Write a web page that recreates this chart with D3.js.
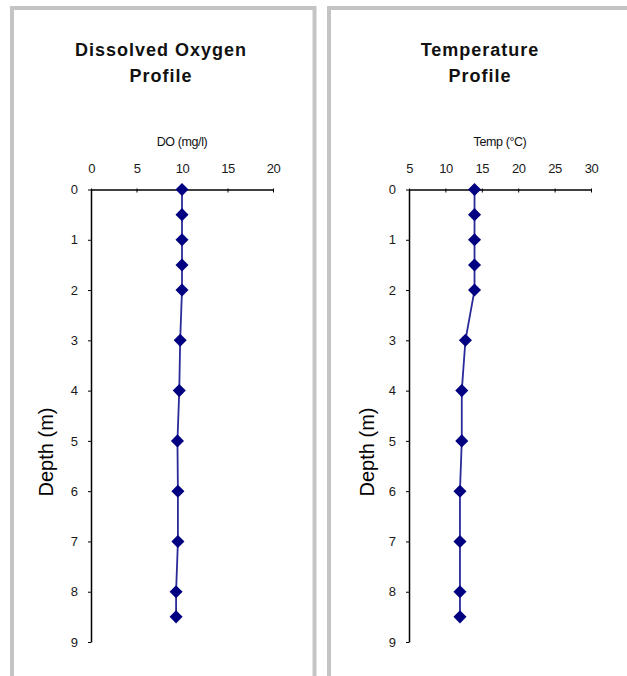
<!DOCTYPE html>
<html>
<head>
<meta charset="utf-8">
<script src="https://cdn.jsdelivr.net/npm/d3@7"></script>
<style>
  body { margin: 0; background: #fff; }
  text { font-family: "Liberation Sans", Arial, sans-serif; }
</style>
</head>
<body>
<div id="chart"></div>
<script>
// depth of each reading (m)
var depths = [0, 0.5, 1, 1.5, 2, 3, 4, 5, 6, 7, 8, 8.5];
// dissolved oxygen (mg/l)
var doValues = [10.0, 10.0, 10.0, 10.0, 10.0, 9.8, 9.7, 9.5, 9.55, 9.55, 9.35, 9.35];
// temperature (C)
var tempValues = [14.0, 14.0, 14.0, 14.0, 14.0, 12.75, 12.25, 12.25, 12.0, 12.0, 12.0, 12.0];

var doTicks = [0, 5, 10, 15, 20];
var tempTicks = [5, 10, 15, 20, 25, 30];
var depthTicks = [0, 1, 2, 3, 4, 5, 6, 7, 8, 9];

var W = 627, H = 676;

var svg = d3.select("#chart").append("svg")
    .attr("width", W)
    .attr("height", H);

// one panel per chart
var panels = [
  {px: 12, pw: 302.5, title: ["Dissolved Oxygen", "Profile"], tcx: 161,
   xlabel: "DO (mg/l)", domain: [0, 20], ticks: doTicks, values: doValues,
   x0: 91, x1: 273, ylab: 46},
  {px: 329, pw: 320, title: ["Temperature", "Profile"], tcx: 480,
   xlabel: "Temp (°C)", domain: [5, 30], ticks: tempTicks, values: tempValues,
   x0: 409, x1: 591, ylab: 367}
];

var y = d3.scaleLinear().domain([0, 9]).range([189.5, 642]);

panels.forEach(function(p){
  // gray frame
  svg.append("rect")
    .attr("x", p.px).attr("y", 8)
    .attr("width", p.pw).attr("height", H + 20)
    .attr("fill", "none")
    .attr("stroke", "#c4c4c4")
    .attr("stroke-width", 4);

  var title = svg.append("text")
    .attr("x", p.tcx).attr("y", 56)
    .attr("text-anchor", "middle")
    .attr("font-size", 18).attr("font-weight", "bold")
    .attr("letter-spacing", 1)
    .attr("fill", "#111");
  title.append("tspan").attr("x", p.tcx).attr("y", 56).text(p.title[0]);
  title.append("tspan").attr("x", p.tcx).attr("y", 82).text(p.title[1]);

  var x = d3.scaleLinear().domain(p.domain).range([p.x0, p.x1]);

  svg.append("text")
    .attr("x", (p.x0 + p.x1) / 2).attr("y", 146)
    .attr("text-anchor", "middle")
    .attr("font-size", 12.5)
    .attr("letter-spacing", -0.4)
    .attr("fill", "#111")
    .text(p.xlabel);

  var gx = svg.append("g")
    .attr("transform", "translate(0," + y(0) + ")")
    .call(d3.axisTop(x).tickValues(p.ticks).tickSize(3).tickPadding(13.5).tickSizeOuter(0));
  gx.select(".domain").attr("stroke", "#000").attr("stroke-width", 1.5);
  gx.selectAll(".tick line").attr("stroke", "#000").attr("y2", 3).attr("y1", -1);
  gx.selectAll(".tick text")
    .attr("font-size", 13).attr("fill", "#1a1a1a")
    .attr("letter-spacing", -0.5)
    .attr("font-family", "Liberation Sans, Arial, sans-serif");

  var gy = svg.append("g")
    .attr("transform", "translate(" + p.x0 + ",0)")
    .call(d3.axisLeft(y).tickValues(depthTicks).tickSize(3).tickPadding(10).tickSizeOuter(0));
  gy.select(".domain").attr("stroke", "#000").attr("stroke-width", 1.5);
  gy.selectAll(".tick line").attr("stroke", "#000");
  gy.selectAll(".tick text")
    .attr("font-size", 13).attr("fill", "#1a1a1a")
    .attr("font-family", "Liberation Sans, Arial, sans-serif");

  svg.append("text")
    .attr("transform", "translate(" + (p.ylab + 7) + "," + 452 + ") rotate(-90)")
    .attr("text-anchor", "middle")
    .attr("font-size", 20)
    .attr("fill", "#000")
    .text("Depth (m)");

  var pts = depths.map(function(d, i){ return [p.values[i], d]; });

  var line = d3.line()
    .x(function(d){ return x(d[0]); })
    .y(function(d){ return y(d[1]); });

  svg.append("path")
    .datum(pts)
    .attr("d", line)
    .attr("fill", "none")
    .attr("stroke", "#2a2a99")
    .attr("stroke-width", 1.8);

  svg.selectAll(null)
    .data(pts)
    .enter().append("path")
    .attr("d", d3.symbol().type(d3.symbolSquare).size(85))
    .attr("transform", function(d){ return "translate(" + x(d[0]) + "," + y(d[1]) + ") rotate(45)"; })
    .attr("fill", "#000080");
});
</script>
</body>
</html>
